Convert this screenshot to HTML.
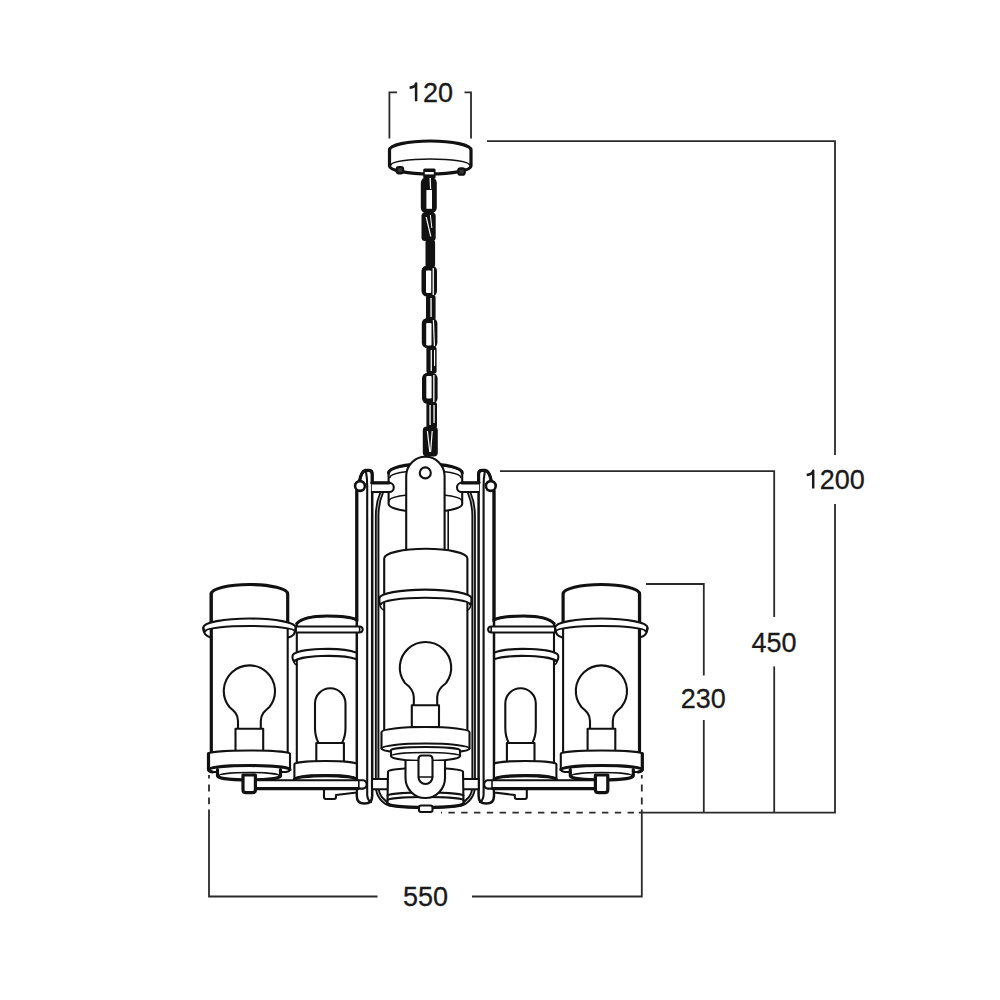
<!DOCTYPE html>
<html><head><meta charset="utf-8"><style>
html,body{margin:0;padding:0;background:#fff;width:1000px;height:1000px;overflow:hidden}
svg{display:block}
text{font-family:"Liberation Sans",sans-serif;font-size:27px;fill:#1a1a1a;stroke:#1a1a1a;stroke-width:0.3}
.d{stroke:#2a2a2a;stroke-width:1.8;fill:none}
.ch{stroke:#111;fill:#fff;stroke-linejoin:round;stroke-linecap:round}
.k{stroke-width:3.2}
.m{stroke-width:2.1}
.t{stroke-width:1.6}
.n{fill:none}
</style></head><body>
<svg width="1000" height="1000" viewBox="0 0 1000 1000">
<defs>
<g id="half" class="ch">
  <!-- frame arm -->
  <path class="k" d="M356.8,491 L356.8,796 Q356.8,803.6 364.5,803.6 Q372.2,803.6 372.2,796 L372.2,474 Q372.2,470.4 368.8,470.4 L365.5,470.4 Q361.5,471 359.5,481" style="stroke-width:2.5"/>
  <path class="k n" d="M356.8,491 L356.8,621 M372.2,482 L372.2,474 Q372.2,470.4 368.8,470.4 L365.5,470.4 Q361.5,471 359.5,481"/>
  <path class="m n" d="M366,471.8 Q367.2,478 367.2,486 L367.2,795 Q367.6,800.5 371,802"/>
  <circle class="k" cx="360" cy="486" r="4.9" style="stroke-width:2.6"/>
  <!-- thin rods -->
  <path d="M380.5,492 C377,500 375.8,506 375.8,516 L375.8,786 C375.8,797 383,804 390,806 L390,803 C384,801 378.5,795 378.5,786 L378.5,516 C378.5,506 379.8,500 383.3,492 Z" fill="#bbb" stroke="none"/>
  <path class="t n" d="M380.5,492 C377,500 375.8,506 375.8,516 L375.8,786 C375.8,797 383,804 390,806" style="stroke-width:1.8"/>
  <path class="t n" d="M383.3,492 C379.8,500 378.5,506 378.5,516 L378.5,786 C378.5,795 384,801 390,803" style="stroke-width:1.8"/>
  <!-- top rod -->
  <!-- bottom rod to hub -->
  <rect class="m" x="372" y="779" width="16" height="10.2"/>

  <!-- ===== mid-left lamp ===== -->
  <path class="m" d="M296.8,764 L296.8,623.5 C302,617.8 315,616 327,616 C340,616 351,617 356.6,619.8 L356.6,764"/>
  <path class="k n" d="M296.8,623.5 C302,617.8 315,616 327,616 C340,616 351,617 356.6,619.8"/>
  <!-- rod through top -->
  <path class="m" d="M296.8,626.5 L359.5,626.5 A3.2,3 0 0 1 359.5,632.5 L296.8,632.5"/>
  <line class="t" x1="359.6" y1="626.8" x2="359.6" y2="632.2"/>
  <!-- ring 2 -->
  <path class="m" d="M356.6,652.7 A34,7 0 0 0 292.8,655 Q291.6,659.5 294.5,661.3 A33,6 0 0 1 356.6,659.2 Z"/>
  <path class="t n" d="M293.3,659.5 Q293.6,664 297,665"/>
  <!-- tubular bulb -->
  <path class="m" d="M318.2,742.4 C316,738 315,733 315,728 L315,703.5 A15.25,15.25 0 0 1 345.5,703.5 L345.5,728 C345.5,733 344.5,738 342.3,742.4"/>
  <rect class="m" x="316.3" y="743" width="27.6" height="19.5"/>
  <!-- base plate -->
  <path class="m" d="M294.4,764 A31.2,3 0 0 1 356.8,764 L356.8,779.6 A31.2,4 0 0 0 294.4,779.6 Z"/>
  <path class="k n" d="M294.4,779.6 A31.2,4 0 0 1 356.8,779.6"/>
  <!-- stem & bracket under arm -->
  <path class="m" d="M324,788 L324,797 Q324,799 326,799 L334,799 Q336,799 336,797 L336,795 L356.8,792.5 L356.8,788 Z"/>

  <!-- ===== far-left lamp ===== -->
  <rect x="211" y="630" width="77" height="124" stroke="none"/>
  <line class="k" x1="211.3" y1="593" x2="211.3" y2="754"/>
  <line class="m" x1="287.7" y1="625" x2="287.7" y2="754"/>
  <path class="k" d="M211.3,622 L211.3,594 A38.2,9.5 0 0 1 287.7,594 L287.7,622"/>
  <!-- ring -->
  <path class="m" d="M203.3,627.5 A46.2,9 0 0 1 295.7,627.5 Q295.7,631 294.6,631 A44.5,5 0 0 0 205.5,631 Q203.3,631 203.3,627.5 Z"/>
  <path class="m n" d="M203.3,628 Q203.3,636 211.5,637.6"/>
  <path class="m n" d="M295.7,628 Q295.7,636 288,637.6"/>
  <!-- bulb -->
  <path class="m" d="M238,729 L238,721 C238,714 233.5,710.5 229.4,707 A25.6,25.6 0 1 1 269.4,707 C265.3,710.5 260.8,714 260.8,721 L260.8,729"/>
  <rect class="m" x="235.5" y="728.8" width="27.7" height="23.2"/>
  <!-- base plate -->
  <path class="m" d="M208.5,753.5 A40.75,3 0 0 1 290,753.5 L290,769 Q290,771.5 286,772 L212.5,772 Q208.5,771.5 208.5,769 Z"/>
  <path class="k" d="M208.5,753.5 L208.5,769 Q208.5,771.5 212.5,772" style="fill:none"/>
  <path class="k n" d="M208.5,769.5 A40.75,4 0 0 1 290,769.5"/>
  <!-- sub plate -->
  <path d="M217.5,769 L280.5,769 L280.5,776 A31.5,4 0 0 1 217.5,776 Z" stroke="none"/>
  <path class="k n" d="M217.5,769.5 L217.5,776 A31.5,4 0 0 0 280.5,776 L280.5,769.5"/>
  <path class="t n" d="M219,775.5 A30,3 0 0 1 279,775.5"/>
  <!-- arm -->
  <path class="m" d="M255,780.3 L363,780.3 A4.3,4.2 0 0 1 363,788.6 L255,788.6"/>
  <line class="k" x1="255" y1="788.6" x2="358" y2="788.6"/>
  <line class="t" x1="358.8" y1="780.5" x2="358.8" y2="788.4"/>
  <!-- stem -->
  <path class="k" d="M243,775 L243,790 Q243,792.6 246,792.6 L252.4,792.6 Q255.4,792.6 255.4,790 L255.4,775 Z"/>
</g>
</defs>

<!-- ===== dimension lines ===== -->
<g class="d">
  <path d="M389.4,138.6 L389.4,92.4 L397,92.4"/>
  <path d="M464.5,92.4 L471,92.4 L471,138.6"/>
  <path d="M487,141.2 L835,141.2 L835,455"/>
  <path d="M835,504 L835,812.7 L638.8,812.7"/>
  <path d="M500,471.2 L774.2,471.2 L774.2,617"/>
  <line x1="774.2" y1="666.4" x2="774.2" y2="812.5"/>
  <path d="M646,584 L703.8,584 L703.8,675.6"/>
  <line x1="703.8" y1="720" x2="703.8" y2="812.5"/>
  <path d="M641.8,809.6 L641.8,896.5 L472,896.5"/>
  <path d="M377.5,896.5 L209,896.5 L209,809.5"/>
  <line x1="641.8" y1="804.4" x2="641.8" y2="775" stroke-dasharray="7 6"/>
  <line x1="634" y1="812.7" x2="441" y2="812.7" stroke-dasharray="6.4 6.4"/>
  <line x1="209" y1="804.2" x2="209" y2="775" stroke-dasharray="6.8 6"/>
</g>
<text x="423" y="101.5">20</text>
<text x="819.8" y="488.8">200</text>
<path d="M416.1,101.2 L416.1,83.6 C415.2,86.6 413.2,87.4 409.6,87.7" fill="none" stroke="#1a1a1a" stroke-width="2.5" stroke-linejoin="round"/>
<path d="M813.2,488.4 L813.2,470.8 C812.3,473.8 810.3,474.6 806.7,474.9" fill="none" stroke="#1a1a1a" stroke-width="2.5" stroke-linejoin="round"/>
<text x="774" y="652.4" text-anchor="middle">450</text>
<text x="703.3" y="708" text-anchor="middle">230</text>
<text x="425.5" y="905.5" text-anchor="middle">550</text>

<!-- ===== canopy ===== -->
<g class="ch">
  <path class="k" d="M389.5,150 A40.75,9 0 0 1 471,150 L471,166 A40.75,8 0 0 1 389.5,166 Z"/>
  <path class="t n" d="M391,165 A39,6 0 0 1 469.5,165"/>
  <rect class="m" x="396.6" y="167" width="6.6" height="6.4" rx="2.4" fill="#333"/>
  <rect class="m" x="458.2" y="168.4" width="6.6" height="6.4" rx="2.4" fill="#333"/>
</g>

<!-- ===== chain ===== -->
<g fill="#111" stroke="none">
  <rect x="423.2" y="168.4" width="12.4" height="10" rx="1.5"/>
  <rect x="420.8" y="177" width="16" height="36.5" rx="6"/>
  <rect x="421.5" y="212.5" width="14.2" height="28.5" rx="3.5"/>
  <rect x="425.5" y="240" width="9.6" height="27" rx="2.5"/>
  <rect x="421.5" y="265.5" width="15.5" height="31" rx="5.5"/>
  <rect x="426" y="295" width="9.6" height="25" rx="2.5"/>
  <rect x="421.8" y="318" width="15.6" height="30" rx="5.5"/>
  <rect x="426.4" y="346.5" width="10.2" height="27" rx="2.5"/>
  <rect x="422" y="372.8" width="15.6" height="31" rx="5.5"/>
  <rect x="426.4" y="402" width="10.6" height="26" rx="2.5"/>
  <rect x="422.8" y="426.4" width="15" height="30" rx="4"/>
</g>
<g fill="#fff" stroke="none">
  <rect x="424.8" y="172" width="9" height="2.4"/>
  <polygon points="426.4,190 432,190 432,208.8 426.4,208.8"/>
  <polygon points="429.5,178 430.8,178 431.2,189 430,189"/>
  <polygon points="425.6,217 426.8,217 431.4,236.5 430.2,236.5"/>
  <polygon points="429.8,215 430.8,215 432.4,228 431.4,228"/>
  <rect x="426" y="270.5" width="5.2" height="22.5" rx="1"/>
  <rect x="432.6" y="268" width="1.3" height="27"/>
  <rect x="430.4" y="298" width="1.3" height="19"/>
  <rect x="426.2" y="323" width="5.3" height="22.5" rx="1"/>
  <polygon points="432.8,320 434,320 435,346 433.8,346"/>
  <rect x="430.6" y="350" width="1.3" height="21"/><rect x="434" y="350" width="1.1" height="16"/>
  <rect x="426.3" y="376" width="5.3" height="22.5" rx="1"/>
  <rect x="433.2" y="375" width="1.3" height="27"/>
  <rect x="429.4" y="405" width="1.3" height="20"/>
  <rect x="433.4" y="405" width="1.3" height="18"/>
  <polygon points="426.8,431 428,431 430.4,452 429.2,452"/>
  <polygon points="431.6,431 432.8,431 431.2,452 430,452"/>
</g>

<!-- ===== chandelier halves ===== -->
<use href="#half"/>
<use href="#half" transform="matrix(-1 0 0 1 850.8 0)"/>

<!-- ===== center lantern ===== -->
<g class="ch">
  <!-- top cup -->
  <path class="m" d="M388.6,473 A36.8,8.7 0 0 1 462.2,473 L462.2,504 A36.8,8 0 0 1 388.6,504 Z"/>
  <path class="k n" d="M388.6,473 A36.8,9.2 0 0 1 462.2,473"/>
  <path class="t n" d="M390,477.5 A35.4,7 0 0 1 460.8,477.5"/>
  <path class="t n" d="M389,501 A36.4,7 0 0 1 461.8,501"/>
  <!-- top rods -->
  <path class="m" d="M371.8,482.8 L389.2,482.8 A4.6,4.6 0 0 1 389.2,492 L371.8,492"/>
  <line class="k" x1="371.8" y1="482.8" x2="389" y2="482.8"/>
  <g transform="matrix(-1 0 0 1 850.8 0)">
  <path class="m" d="M371.8,482.8 L389.2,482.8 A4.6,4.6 0 0 1 389.2,492 L371.8,492"/>
  <line class="k" x1="371.8" y1="482.8" x2="389" y2="482.8"/>
  </g>
  <!-- tab -->
  <path class="m" d="M406.2,552 L406.2,476 A19.2,19.2 0 0 1 444.6,476 L444.6,552"/>
  <line class="t" x1="448.2" y1="511" x2="448.2" y2="552"/>
  <circle class="m" cx="425.3" cy="472.9" r="5.5"/>
  <!-- lantern glass -->
  <path class="m" d="M384.2,735 L384.2,558.4 A41.6,9.6 0 0 1 467.4,558.4 L467.4,735"/>
  <!-- ring -->
  <g transform="translate(0,0.8)">
  <path class="m" d="M379.4,597.5 A46,8.7 0 0 1 471.4,597.5 L471.4,602 Q471.4,603 470,603.5 A44.5,6.5 0 0 0 381,603.5 Q379.4,603 379.4,602 Z"/>
  <path class="t n" d="M379.6,602 Q380,608 384.2,609.6"/>
  <path class="t n" d="M471.2,602 Q470.8,608 467.4,609.6"/>
  </g>
  <!-- bulb -->
  <path class="m" d="M413.8,705.2 L413.8,697 C413.8,690 409,686 404.9,683 A25.7,25.7 0 1 1 446.1,683 C442,686 437.2,690 437.2,697 L437.2,705.2"/>
  <rect class="m" x="411.8" y="705.2" width="27.2" height="21.8"/>
  <!-- bottom plate -->
  <path class="m" d="M381.5,732 A44,5 0 0 1 469.5,732 L469.5,748.5 A44,5 0 0 1 381.5,748.5 Z"/>
  <path class="m n" d="M381.5,748.5 A44,5 0 0 1 469.5,748.5"/>
  <!-- sub plate -->
  <path class="m" d="M391,750 A34.5,3 0 0 1 460,750 L460,756 A34.5,5 0 0 1 391,756 Z"/>
  <path class="t n" d="M391,756 A34.5,3.5 0 0 1 460,756"/>
  <!-- hub -->
  <path class="m" d="M388,771.5 A37.5,3.5 0 0 1 463,771.5 L463.5,803.5 A38,4 0 0 1 387.5,803.5 Z"/>
  <path class="m n" d="M387.5,795.5 A38,3 0 0 1 463.5,795.5"/>
  <path class="m n" d="M387.5,800 A38,3 0 0 1 463.5,800"/>
  <path class="k n" d="M387.5,803.5 A38,4 0 0 0 463.5,803.5"/>
  <!-- shackle -->
  <path class="m" d="M405.5,761 L405.5,778 A19.75,20 0 0 0 445,778 L445,761"/>
  <path class="m" d="M418.5,759 Q418.5,755.5 422,755.5 L429,755.5 Q432.5,755.5 432.5,759 L432.5,777 A7,7 0 0 1 418.5,777 Z"/>
  <line class="t" x1="418.5" y1="777" x2="432.5" y2="777"/>
  <!-- nipple -->
  <rect class="m" x="419" y="805.5" width="13.5" height="6.5" rx="2"/>
</g>
</svg>
</body></html>
